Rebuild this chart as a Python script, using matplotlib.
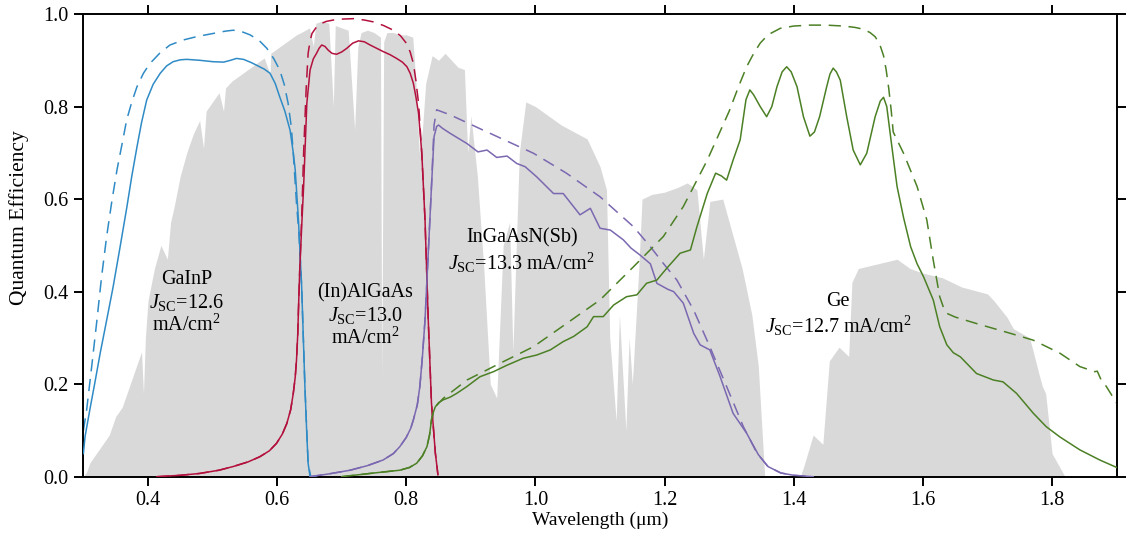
"""Quantum efficiency of a four-junction cell over the AM1.5 photon spectrum."""

import matplotlib

matplotlib.use("Agg")  # headless
import matplotlib.pyplot as plt  # noqa: E402

plt.rcParams["font.family"] = ["Liberation Serif", "DejaVu Serif"]
plt.rcParams["mathtext.fontset"] = "custom"
plt.rcParams["mathtext.rm"] = "Liberation Serif"
plt.rcParams["mathtext.it"] = "Liberation Serif:italic"

# ---------- data ----------------------------------------------------------

spec_wl = [0.300, 0.305, 0.31, 0.32, 0.33, 0.34, 0.35, 0.36, 0.37, 0.38, 0.39,
           0.393, 0.396, 0.40, 0.41, 0.42, 0.43, 0.435, 0.44, 0.45, 0.46, 0.47,
           0.48, 0.486, 0.49, 0.50, 0.51, 0.517, 0.52, 0.53, 0.54, 0.55, 0.56,
           0.57, 0.58, 0.589, 0.59, 0.60, 0.61, 0.62, 0.63, 0.64, 0.65, 0.656,
           0.66, 0.67, 0.68, 0.687, 0.69, 0.70, 0.71, 0.72, 0.725, 0.73, 0.74,
           0.75, 0.76, 0.762, 0.765, 0.77, 0.78, 0.79, 0.80, 0.81, 0.815, 0.82,
           0.825, 0.83, 0.84, 0.85, 0.86, 0.87, 0.88, 0.89, 0.895, 0.90, 0.91,
           0.92, 0.93, 0.94, 0.95, 0.96, 0.965, 0.975, 0.985, 1.00, 1.02, 1.04,
           1.06, 1.08, 1.09, 1.10, 1.11, 1.115, 1.125, 1.13, 1.14, 1.145, 1.15,
           1.16, 1.165, 1.18, 1.20, 1.22, 1.235, 1.25, 1.26, 1.27, 1.29, 1.30,
           1.32, 1.335, 1.345, 1.355, 1.41, 1.415, 1.43, 1.445, 1.455, 1.47,
           1.485, 1.49, 1.50, 1.53, 1.56, 1.58, 1.60, 1.63, 1.66, 1.70, 1.71,
           1.73, 1.74, 1.765, 1.77, 1.78, 1.785, 1.79, 1.80, 1.812, 1.82, 1.90]
spec_val = [0.0, 0.01, 0.03, 0.05, 0.07, 0.09, 0.13, 0.15, 0.19, 0.23, 0.27,
            0.18, 0.30, 0.38, 0.45, 0.50, 0.47, 0.55, 0.58, 0.65, 0.70, 0.74,
            0.77, 0.71, 0.79, 0.81, 0.83, 0.79, 0.84, 0.855, 0.865, 0.875, 0.885,
            0.895, 0.905, 0.87, 0.915, 0.925, 0.935, 0.945, 0.955, 0.962, 0.97, 0.93,
            0.98, 0.985, 0.98, 0.80, 0.975, 0.97, 0.965, 0.75, 0.93, 0.96, 0.965,
            0.96, 0.95, 0.22, 0.94, 0.96, 0.96, 0.955, 0.955, 0.95, 0.85, 0.70,
            0.75, 0.85, 0.91, 0.90, 0.915, 0.90, 0.885, 0.88, 0.70, 0.78, 0.65,
            0.45, 0.20, 0.17, 0.50, 0.55, 0.27, 0.70, 0.81, 0.80, 0.78, 0.76,
            0.745, 0.73, 0.70, 0.67, 0.62, 0.30, 0.12, 0.35, 0.10, 0.30, 0.20,
            0.45, 0.60, 0.61, 0.615, 0.625, 0.635, 0.62, 0.47, 0.595, 0.60, 0.55,
            0.45, 0.35, 0.24, 0.0, 0.0, 0.02, 0.09, 0.07, 0.25, 0.28,
            0.26, 0.42, 0.45, 0.46, 0.47, 0.45, 0.44, 0.43, 0.41, 0.395, 0.38,
            0.345, 0.32, 0.30, 0.275, 0.22, 0.195, 0.18, 0.05, 0.02, 0.0, 0.0]

# GaInP top cell (solid = EQE, dashed = IQE)
gainp_wl = [0.300, 0.3025, 0.31, 0.318, 0.326, 0.336, 0.346, 0.356, 0.367, 0.375,
            0.383, 0.39, 0.398, 0.408, 0.419, 0.429, 0.439, 0.45, 0.46, 0.48,
            0.50, 0.517, 0.528, 0.537, 0.548, 0.56, 0.57, 0.58, 0.589, 0.597,
            0.604, 0.612, 0.62, 0.625, 0.628, 0.633, 0.638, 0.643, 0.646, 0.648,
            0.651, 0.66]
gainp_eqe = [0.05, 0.086, 0.145, 0.205, 0.267, 0.338, 0.41, 0.49, 0.58, 0.65,
             0.713, 0.765, 0.814, 0.848, 0.872, 0.888, 0.897, 0.901, 0.902, 0.90,
             0.897, 0.896, 0.90, 0.904, 0.902, 0.895, 0.888, 0.881, 0.872, 0.85,
             0.821, 0.79, 0.749, 0.70, 0.663, 0.555, 0.41, 0.195, 0.09, 0.029,
             0.0, 0.0]
gainp_iqe_wl = [0.300, 0.305, 0.313, 0.321, 0.328, 0.336, 0.344, 0.352, 0.36,
                0.367, 0.375, 0.383, 0.393, 0.403, 0.418, 0.434, 0.455, 0.475,
                0.501, 0.52, 0.532, 0.545, 0.558, 0.572, 0.584, 0.595, 0.604,
                0.611, 0.617, 0.622, 0.625, 0.63, 0.634, 0.638, 0.643, 0.648,
                0.652]
gainp_iqe = [0.10, 0.144, 0.24, 0.339, 0.43, 0.519, 0.595, 0.663, 0.72,
             0.771, 0.81, 0.843, 0.872, 0.893, 0.915, 0.933, 0.944, 0.951,
             0.958, 0.963, 0.965, 0.962, 0.955, 0.943, 0.926, 0.903, 0.879,
             0.848, 0.807, 0.755, 0.699, 0.591, 0.52, 0.41, 0.195, 0.029,
             0.0]

# (In)AlGaAs cell
algaas_wl = [0.414, 0.45, 0.48, 0.51, 0.532, 0.555, 0.573, 0.588, 0.599, 0.608,
             0.615, 0.621, 0.625, 0.628, 0.63, 0.632, 0.633, 0.635, 0.638, 0.641,
             0.646, 0.651, 0.656, 0.661, 0.665, 0.669, 0.674, 0.679, 0.685,
             0.692, 0.70, 0.708, 0.717, 0.726, 0.735, 0.744, 0.754, 0.764,
             0.775, 0.785, 0.794, 0.801, 0.806, 0.811, 0.815, 0.819, 0.824,
             0.829, 0.834, 0.839, 0.845, 0.849]
algaas_eqe = [0.0, 0.003, 0.007, 0.014, 0.022, 0.032, 0.043, 0.056, 0.072, 0.092,
              0.115, 0.145, 0.18, 0.215, 0.252, 0.31, 0.36, 0.447, 0.54, 0.627,
              0.807, 0.879, 0.903, 0.915, 0.926, 0.933, 0.93, 0.922, 0.915,
              0.913, 0.918, 0.926, 0.937, 0.942, 0.94, 0.933, 0.926, 0.919,
              0.912, 0.904, 0.896, 0.886, 0.872, 0.85, 0.82, 0.785, 0.699,
              0.555, 0.339, 0.159, 0.051, 0.004]
algaas_iqe_wl = [0.414, 0.45, 0.48, 0.51, 0.532, 0.555, 0.573, 0.588, 0.599,
                 0.608, 0.615, 0.621, 0.625, 0.628, 0.63, 0.632, 0.633, 0.635,
                 0.638, 0.641, 0.645, 0.648, 0.651, 0.654, 0.66, 0.666, 0.676,
                 0.687, 0.70, 0.718, 0.735, 0.749, 0.765, 0.78, 0.791, 0.80,
                 0.806, 0.811, 0.815, 0.819, 0.824, 0.829, 0.834, 0.839, 0.845,
                 0.849]
algaas_iqe = [0.0, 0.003, 0.007, 0.014, 0.022, 0.032, 0.043, 0.056, 0.072,
              0.092, 0.115, 0.145, 0.18, 0.215, 0.252, 0.31, 0.36, 0.447,
              0.56, 0.699, 0.84, 0.915, 0.942, 0.958, 0.97, 0.978, 0.984,
              0.987, 0.989, 0.99, 0.987, 0.983, 0.975, 0.965, 0.953, 0.937,
              0.918, 0.893, 0.855, 0.807, 0.699, 0.555, 0.339, 0.159, 0.051,
              0.004]

# InGaAsN(Sb) cell
ingaasn_wl = [0.651, 0.68, 0.713, 0.74, 0.764, 0.78, 0.79, 0.80, 0.807, 0.811,
              0.817, 0.821, 0.825, 0.829, 0.834, 0.839, 0.843, 0.847, 0.85,
              0.856, 0.868, 0.894, 0.911, 0.925, 0.94, 0.956, 0.971, 0.984,
              1.002, 1.028, 1.043, 1.069, 1.085, 1.10, 1.116, 1.136, 1.148,
              1.162, 1.178, 1.188, 1.205, 1.214, 1.229, 1.245, 1.255, 1.27,
              1.286, 1.306, 1.327, 1.345, 1.36, 1.38, 1.40, 1.43]
ingaasn_eqe = [0.0, 0.006, 0.014, 0.024, 0.036, 0.05, 0.065, 0.085, 0.105, 0.123,
               0.155, 0.195, 0.26, 0.339, 0.483, 0.627, 0.735, 0.757, 0.76,
               0.753, 0.742, 0.72, 0.702, 0.706, 0.69, 0.693, 0.677, 0.67,
               0.648, 0.612, 0.612, 0.566, 0.58, 0.537, 0.533, 0.512, 0.494,
               0.479, 0.46, 0.418, 0.405, 0.40, 0.375, 0.31, 0.285, 0.274,
               0.216, 0.137, 0.094, 0.048, 0.022, 0.008, 0.003, 0.0]
ingaasn_iqe_wl = [0.651, 0.68, 0.713, 0.74, 0.764, 0.78, 0.79, 0.80, 0.807,
                  0.811, 0.817, 0.821, 0.825, 0.829, 0.834, 0.839, 0.843, 0.847,
                  0.868, 0.919, 0.997, 1.048, 1.10, 1.152, 1.178, 1.198, 1.219,
                  1.245, 1.27, 1.296, 1.322, 1.343, 1.36, 1.38, 1.40, 1.43]
ingaasn_iqe = [0.0, 0.006, 0.014, 0.024, 0.036, 0.05, 0.065, 0.085, 0.105,
               0.123, 0.155, 0.195, 0.26, 0.339, 0.483, 0.627, 0.76, 0.793,
               0.782, 0.749, 0.699, 0.656, 0.605, 0.54, 0.497, 0.461, 0.425,
               0.36, 0.281, 0.195, 0.108, 0.051, 0.022, 0.008, 0.003, 0.0]

# Ge bottom cell
ge_wl = [0.70, 0.75, 0.79, 0.805, 0.816, 0.825, 0.832, 0.836, 0.839, 0.842,
         0.845, 0.85, 0.857, 0.868, 0.878, 0.894, 0.914, 0.935, 0.956, 0.981,
         1.002, 1.023, 1.043, 1.059, 1.08, 1.09, 1.105, 1.121, 1.141, 1.157,
         1.172, 1.188, 1.203, 1.224, 1.24, 1.25, 1.266, 1.279, 1.288, 1.296,
         1.306, 1.317, 1.326, 1.332, 1.338, 1.348, 1.358, 1.366, 1.374, 1.382,
         1.389, 1.396, 1.405, 1.415, 1.425, 1.432, 1.44, 1.451, 1.456, 1.461,
         1.466, 1.472, 1.482, 1.492, 1.503, 1.513, 1.526, 1.534, 1.539, 1.544,
         1.549, 1.555, 1.56, 1.57, 1.581, 1.591, 1.601, 1.616, 1.626, 1.637,
         1.647, 1.658, 1.683, 1.709, 1.724, 1.745, 1.771, 1.791, 1.812, 1.843,
         1.874, 1.90]
ge_eqe = [0.0, 0.008, 0.014, 0.02, 0.029, 0.045, 0.065, 0.09, 0.123, 0.14,
          0.151, 0.16, 0.166, 0.172, 0.18, 0.195, 0.216, 0.227, 0.241, 0.256,
          0.263, 0.274, 0.292, 0.303, 0.324, 0.346, 0.346, 0.371, 0.389, 0.393,
          0.418, 0.425, 0.45, 0.483, 0.49, 0.54, 0.612, 0.656, 0.65, 0.641,
          0.684, 0.728, 0.815, 0.836, 0.825, 0.80, 0.778, 0.80, 0.843, 0.875,
          0.886, 0.875, 0.843, 0.778, 0.736, 0.745, 0.778, 0.843, 0.87, 0.883,
          0.875, 0.857, 0.778, 0.706, 0.674, 0.699, 0.778, 0.812, 0.82, 0.80,
          0.745, 0.68, 0.627, 0.56, 0.497, 0.46, 0.432, 0.382, 0.324, 0.285,
          0.268, 0.259, 0.223, 0.209, 0.205, 0.18, 0.137, 0.108, 0.086, 0.058,
          0.036, 0.02]
ge_iqe_wl = [0.70, 0.75, 0.79, 0.805, 0.816, 0.825, 0.832, 0.836, 0.839, 0.842,
             0.845, 0.857, 0.894, 0.945, 0.997, 1.048, 1.10, 1.152, 1.198,
             1.229, 1.266, 1.30, 1.315, 1.327, 1.338, 1.348, 1.36, 1.379, 1.40,
             1.425, 1.45, 1.477, 1.495, 1.508, 1.518, 1.526, 1.533, 1.539,
             1.543, 1.547, 1.551, 1.554, 1.57, 1.591, 1.606, 1.616, 1.626,
             1.632, 1.637, 1.65, 1.683, 1.735, 1.771, 1.812, 1.843, 1.866,
             1.870, 1.876, 1.884, 1.90]
ge_iqe = [0.0, 0.008, 0.014, 0.02, 0.029, 0.045, 0.065, 0.09, 0.123, 0.14,
          0.151, 0.169, 0.209, 0.245, 0.281, 0.331, 0.382, 0.454, 0.519,
          0.584, 0.684, 0.79, 0.845, 0.886, 0.915, 0.937, 0.955, 0.969, 0.974,
          0.976, 0.976, 0.974, 0.971, 0.967, 0.96, 0.951, 0.935, 0.91,
          0.88, 0.84, 0.79, 0.745, 0.699, 0.627, 0.555, 0.468, 0.389,
          0.365, 0.353, 0.345, 0.331, 0.31, 0.295, 0.267, 0.238, 0.227,
          0.228, 0.209, 0.195, 0.159]

cells = [
    (gainp_wl, gainp_eqe, gainp_iqe_wl, gainp_iqe, "#2f8bc6"),
    (algaas_wl, algaas_eqe, algaas_iqe_wl, algaas_iqe, "#b3113d"),
    (ingaasn_wl, ingaasn_eqe, ingaasn_iqe_wl, ingaasn_iqe, "#7b68b1"),
    (ge_wl, ge_eqe, ge_iqe_wl, ge_iqe, "#4c8025"),
]

labels = [
    (0.46, 0.375, "GaInP\n$J_{\\mathrm{SC}}$=12.6\nmA/cm$^2$"),
    (0.736, 0.347, "(In)AlGaAs\n$J_{\\mathrm{SC}}$=13.0\nmA/cm$^2$"),
    (0.979, 0.487, "InGaAsN(Sb)\n$J_{\\mathrm{SC}}$=13.3 mA/cm$^2$"),
    (1.469, 0.35, "Ge\n$J_{\\mathrm{SC}}$=12.7 mA/cm$^2$"),
]

# ---------- plotting -------------------------------------------------------

fig = plt.figure(figsize=(11.3, 5.37), dpi=100)
ax = fig.add_axes([0.0738, 0.1123, 0.9144, 0.8616])

ax.fill_between(spec_wl, spec_val, 0, color="#d9d9d9", linewidth=0, zorder=1)

for wl, eqe, iwl, iqe, col in cells:
    ax.plot(iwl, iqe, color=col, linewidth=1.1, dashes=(8, 5), zorder=2)
    ax.plot(wl, eqe, color=col, linewidth=1.1, zorder=3)

for x, y, txt in labels:
    ax.text(x, y, txt, ha="center", va="center", fontsize=14.5,
            linespacing=1.15, zorder=4)

ax.set_xlim(0.3, 1.9)
ax.set_ylim(0.0, 1.0)
ax.set_xticks([0.4, 0.6, 0.8, 1.0, 1.2, 1.4, 1.6, 1.8])
ax.set_yticks([0.0, 0.2, 0.4, 0.6, 0.8, 1.0])
ax.xaxis.set_major_formatter(plt.FormatStrFormatter("%.1f"))
ax.yaxis.set_major_formatter(plt.FormatStrFormatter("%.1f"))
ax.tick_params(direction="out", length=6.5, width=1.4, labelsize=14.5,
               top=True, right=True, pad=4)
for sp in ax.spines.values():
    sp.set_linewidth(1.4)

ax.set_xlabel("Wavelength (\u03bcm)", fontsize=14, labelpad=1)
ax.set_ylabel("Quantum Efficiency", fontsize=15.5)
ax.yaxis.set_label_coords(-0.053, 0.56)

fig.savefig("out.png", dpi=100)
plt.close(fig)
